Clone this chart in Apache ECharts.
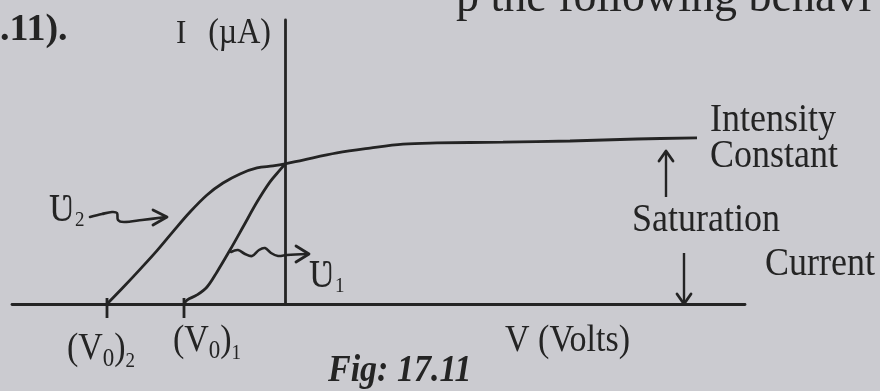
<!DOCTYPE html>
<html>
<head>
<meta charset="utf-8">
<script src="https://cdn.jsdelivr.net/npm/echarts@6.0.0/dist/echarts.min.js"></script>
<style>
  html, body { margin: 0; padding: 0; background: #cbcbd0; }
  #chart { width: 880px; height: 391px; }
</style>
</head>
<body>
<div id="chart"></div>
<script>
// Photoelectric current I (µA) against anode potential V (volts)
// for two light frequencies at the same intensity.

// frequency ν2 (higher) – cuts off at (V0)2
const curveNu2V = [-3.56, -3.24, -2.90, -2.56, -2.24, -1.90, -1.56, -1.24, -0.90, -0.56, -0.24, 0.00, 0.36, 1.04, 1.70, 2.36, 3.04, 4.36, 5.70, 7.04, 8.24];
const curveNu2I = [0.00, 0.58, 1.22, 1.88, 2.55, 3.24, 3.84, 4.26, 4.58, 4.79, 4.86, 4.93, 5.07, 5.32, 5.49, 5.63, 5.67, 5.70, 5.74, 5.81, 5.85];

// frequency ν1 (lower) – cuts off at (V0)1
const curveNu1V = [-2.02, -1.96, -1.76, -1.56, -1.36, -1.10, -0.84, -0.56, -0.30, -0.10, 0.00];
const curveNu1I = [0.00, 0.14, 0.32, 0.60, 1.13, 1.90, 2.71, 3.59, 4.30, 4.72, 4.93];

// stopping potentials marked on the V axis
const stoppingPotentials = [-3.56, -2.02];
const stoppingNames = ['2', '1'];

// axis extents
const vMin = -5.46, vMax = 9.2;
const iMin = 0, iMax = 10;

const INK = '#242424';
const SERIF = '"Liberation Serif", "DejaVu Serif", serif';
const STRETCH = 1.12;

const zip = (xs, ys) => xs.map((x, k) => [x, ys[k]]);

// label placement around each stopping-potential tick
const stopLabelShift = [-6, 23];
const stopLabelDrop = [45, 37];

function label(text, x, y, size, extra) {
  extra = extra || {};
  return {
    type: 'text', x: x, y: y, scaleY: extra.scaleY || STRETCH, silent: true,
    style: Object.assign({
      text: text, fill: INK, font: (extra.weight || 'normal') + ' ' + size + 'px ' + SERIF,
      align: extra.align || 'left', verticalAlign: extra.valign || 'middle'
    }, extra.style || {})
  };
}

function squiggle(points) {
  return { type: 'polyline', silent: true, shape: { points: points, smooth: 0.35 },
           style: { stroke: INK, lineWidth: 2.6, fill: null, lineCap: 'round', lineJoin: 'round' } };
}
function head(points) {
  return { type: 'polyline', silent: true, shape: { points: points },
           style: { stroke: INK, lineWidth: 2.8, fill: null, lineCap: 'round', lineJoin: 'round' } };
}
function nuLabel(x, y, sub) {
  return {
    type: 'text', x: x, y: y, scaleY: STRETCH, silent: true,
    style: {
      text: '{n|Ʋ}{s|' + sub + '}', fill: INK, align: 'left', verticalAlign: 'middle',
      rich: {
        n: { fontFamily: SERIF, fontSize: 36, lineHeight: 38, fill: INK },
        s: { fontFamily: SERIF, fontSize: 19, lineHeight: 18, verticalAlign: 'bottom', fill: INK }
      }
    }
  };
}

const chart = echarts.init(document.getElementById('chart'), null, { renderer: 'canvas' });

chart.setOption({
  backgroundColor: '#cbcbd0',
  animation: false,
  grid: { left: 12, right: 135, top: 20, bottom: 87 },
  xAxis: {
    type: 'value', min: vMin, max: vMax,
    axisLine: { show: true, onZero: true, lineStyle: { color: INK, width: 2.8 } },
    axisTick: { show: false }, axisLabel: { show: false }, splitLine: { show: false }
  },
  yAxis: {
    type: 'value', min: iMin, max: iMax,
    axisLine: { show: true, onZero: true, lineStyle: { color: INK, width: 2.8 } },
    axisTick: { show: false }, axisLabel: { show: false }, splitLine: { show: false }
  },
  series: [
    {
      name: 'ν2', type: 'line', data: zip(curveNu2V, curveNu2I),
      smooth: 0.35, symbol: 'none',
      lineStyle: { color: INK, width: 2.8 }
    },
    {
      name: 'ν1', type: 'line', data: zip(curveNu1V, curveNu1I),
      smooth: 0.35, symbol: 'none',
      lineStyle: { color: INK, width: 2.8 }
    },
    {
      // tick marks and labels for the stopping potentials
      name: 'stopping', type: 'custom', clip: false,
      data: stoppingPotentials.map((v, k) => [v, k]),
      renderItem: function (params, api) {
        const k = api.value(1);
        const p = api.coord([api.value(0), 0]);
        return {
          type: 'group',
          children: [
            { type: 'line', shape: { x1: p[0], y1: p[1] - 6, x2: p[0], y2: p[1] + 14 },
              style: { stroke: INK, lineWidth: 2.8 } },
            {
              type: 'text', x: p[0] + stopLabelShift[k], y: p[1] + stopLabelDrop[k], scaleY: STRETCH,
              style: {
                text: '{m|(V}{z|0}{m|)}{s|' + stoppingNames[k] + '}',
                align: 'center', verticalAlign: 'middle', fill: INK,
                rich: {
                  m: { fontFamily: SERIF, fontSize: 34, lineHeight: 42, fill: INK },
                  z: { fontFamily: SERIF, fontSize: 23, lineHeight: 36, verticalAlign: 'bottom', fill: INK },
                  s: { fontFamily: SERIF, fontSize: 19, lineHeight: 17, verticalAlign: 'bottom', fill: INK }
                }
              }
            }
          ]
        };
      }
    }
  ],
  graphic: [
    label('.11).', 0, 30, 38, { weight: 'bold', scaleY: 1.0 }),
    label('I', 176, 34, 31),
    label('(µA)', 271, 34, 32, { align: 'right' }),
    label('p the following behavi', 456, 22, 46, { valign: 'bottom', scaleY: 1.0 }),
    label('Intensity', 710, 120, 36),
    label('Constant', 710, 156, 36),
    label('Saturation', 632, 220, 36),
    label('Current', 765, 264, 36),
    label('V (Volts)', 505, 341, 34),
    label('Fig: 17.11', 328, 371, 34, { weight: 'italic bold', scaleY: 1.1 }),
    // saturation arrows
    { type: 'line', silent: true, shape: { x1: 666, y1: 197, x2: 666, y2: 152 }, style: { stroke: INK, lineWidth: 2.4 } },
    head([[659, 161], [666, 151], [673, 161]]),
    { type: 'line', silent: true, shape: { x1: 684, y1: 253, x2: 684, y2: 304 }, style: { stroke: INK, lineWidth: 2.4 } },
    head([[677, 294], [684, 304], [691, 294]]),
    // ν2 pointer
    nuLabel(49, 210, '2'),
    squiggle([[90, 217], [102, 214], [112, 212], [117, 213], [118, 220], [124, 222], [142, 220], [166, 217]]),
    head([[153, 210], [167, 217], [153, 225]]),
    // ν1 pointer
    nuLabel(309, 276, '1'),
    squiggle([[231, 252], [238, 250], [245, 254], [252, 256], [259, 250], [265, 248], [271, 253], [278, 256], [287, 255], [307, 254]]),
    head([[296, 246], [309, 254], [296, 262]])
  ]
});
</script>
</body>
</html>
